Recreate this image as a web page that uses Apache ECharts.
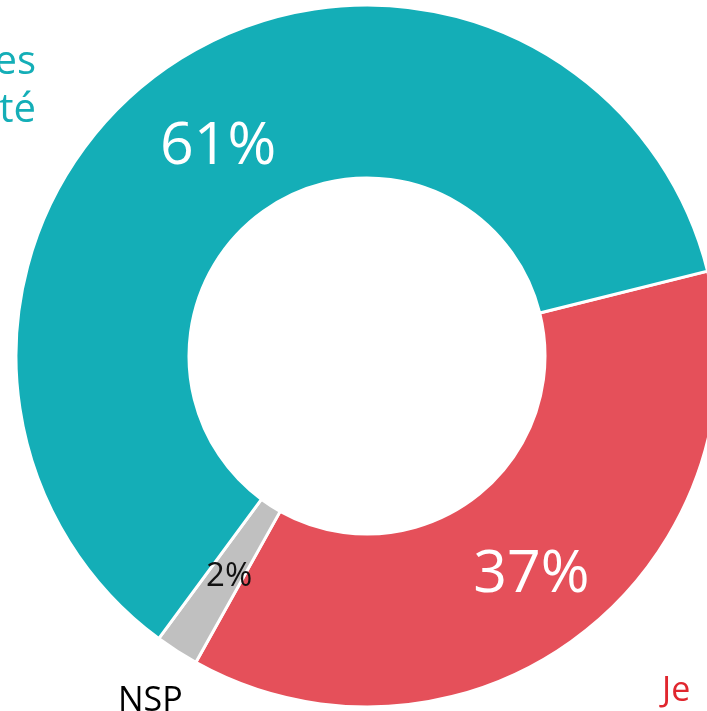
<!DOCTYPE html>
<html>
<head>
<meta charset="utf-8">
<script src="https://cdn.jsdelivr.net/npm/echarts@6/dist/echarts.min.js"></script>
<style>
  html, body { margin: 0; padding: 0; background: #fff; }
  #main { width: 707px; height: 711px; }
</style>
</head>
<body>
<div id="main"></div>
<script>
// valeurs (sens horaire depuis la droite)
const names = ['Je', 'NSP', 'es té']
const values = [37, 2, 61]
const pctLabels = ['37%', '2%', '61%']
const colors = ['#E5505A', '#C0C0C0', '#14AEB7']

const myChart = echarts.init(document.getElementById('main'))

function outerText(text, x, y, size, color, align) {
  return {
    type: 'text',
    x: x,
    y: y,
    style: {
      text: text,
      fontFamily: 'Open Sans',
      fontSize: size,
      fill: color,
      align: align,
      verticalAlign: 'top',
    },
  }
}

const option = {
  backgroundColor: '#ffffff',
  animation: false,
  textStyle: { fontFamily: 'Open Sans' },
  series: [
    {
      type: 'pie',
      center: [367, 356],
      radius: [178, 351],
      startAngle: 14,
      clockwise: true,
      avoidLabelOverlap: false,
      itemStyle: {
        borderColor: '#ffffff',
        borderWidth: 3,
      },
      label: {
        show: true,
        position: 'inside',
        fontFamily: 'Open Sans',
        fontSize: 59,
        color: '#ffffff',
        formatter: function (p) {
          return pctLabels[p.dataIndex]
        },
      },
      labelLine: { show: false },
      data: values.map(function (v, i) {
        const item = {
          name: names[i],
          value: v,
          itemStyle: { color: colors[i] },
        }
        if (i === 0) item.label = { offset: [2, 7] }
        if (i === 1) item.label = { fontSize: 33, color: '#111111', offset: [7, -4] }
        if (i === 2) item.label = { offset: [0, 13] }
        return item
      }),
    },
  ],
  // libellés extérieurs, coupés par le bord de l'image
  graphic: [
    outerText('es', 36, 43, 40, '#14AEB7', 'right'),
    outerText('té', 36, 91, 40, '#14AEB7', 'right'),
    outerText('NSP', 118, 684, 34, '#000000', 'left'),
    outerText('Je', 662, 674, 34, '#E0262E', 'left'),
  ],
}

option && myChart.setOption(option)
window.addEventListener('resize', function () {
  myChart.resize()
})
</script>
</body>
</html>
